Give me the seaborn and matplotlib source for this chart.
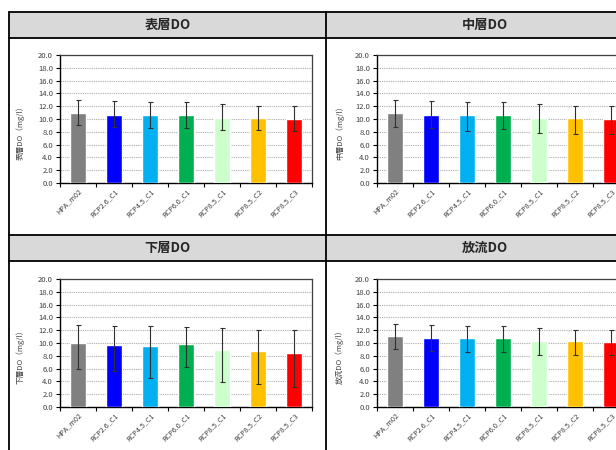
import numpy as np
import pandas as pd
import seaborn as sns
import matplotlib
matplotlib.use("Agg")
import matplotlib.pyplot as plt
from matplotlib.patches import Rectangle
from matplotlib.lines import Line2D
from matplotlib.ticker import MultipleLocator, FixedLocator

sns.set_style("white")
plt.rcParams["font.family"] = ["Noto Sans CJK JP", "DejaVu Sans"]

categories = ["HPA_m02", "RCP2.6_C1", "RCP4.5_C1", "RCP6.0_C1",
              "RCP8.5_C1", "RCP8.5_C2", "RCP8.5_C3"]
bar_colors = ["#808080", "#0000FF", "#00B0F0", "#00B050",
              "#CCFFCC", "#FFC000", "#FF0000"]

titles = ["表層DO", "中層DO", "下層DO", "放流DO"]

# mean, lower end and upper end of the range for each scenario
surface_mean = [11.0, 10.7, 10.7, 10.7, 10.2, 10.2, 10.05]
surface_low = [9.0, 8.8, 8.6, 8.6, 8.3, 8.3, 8.2]
surface_high = [12.9, 12.8, 12.7, 12.6, 12.3, 12.1, 12.1]

middle_mean = [11.0, 10.7, 10.7, 10.7, 10.2, 10.2, 10.05]
middle_low = [8.8, 8.6, 8.2, 8.4, 7.8, 7.7, 7.7]
middle_high = [12.9, 12.8, 12.7, 12.6, 12.3, 12.1, 12.1]

bottom_mean = [10.0, 9.65, 9.5, 9.8, 8.85, 8.7, 8.4]
bottom_low = [5.9, 5.6, 4.5, 6.3, 3.9, 3.6, 3.1]
bottom_high = [12.8, 12.6, 12.6, 12.5, 12.3, 12.0, 12.1]

outflow_mean = [11.05, 10.75, 10.75, 10.75, 10.25, 10.25, 10.1]
outflow_low = [9.0, 8.8, 8.6, 8.6, 8.2, 8.2, 8.1]
outflow_high = [12.9, 12.8, 12.7, 12.6, 12.4, 12.1, 12.1]

series = [
    (surface_mean, surface_low, surface_high),
    (middle_mean, middle_low, middle_high),
    (bottom_mean, bottom_low, bottom_high),
    (outflow_mean, outflow_low, outflow_high),
]

W, H = 616, 450
fig = plt.figure(figsize=(W / 100, H / 100), dpi=100)


def fx(px):
    return px / W


def fy(py):
    return 1 - py / H


# sheet-style panel frames and title bands
for top in (12, 235):
    fig.add_artist(Rectangle((fx(9), fy(top + 25.5)), fx(640 - 9), 25.5 / H,
                             transform=fig.transFigure, facecolor="#D9D9D9",
                             edgecolor="none", zorder=0))
for y in (12, 37.5, 235, 260.5):
    fig.add_artist(Line2D([fx(9), fx(640)], [fy(y), fy(y)],
                          transform=fig.transFigure, color="black", lw=1.3))
for x in (9, 326):
    fig.add_artist(Line2D([fx(x), fx(x)], [fy(12), fy(460)],
                          transform=fig.transFigure, color="black", lw=1.3))

title_pos = [(167.5, 25), (485, 25), (167.5, 248), (485, 248)]
axes_pos = [(60, 55), (377, 55), (60, 279), (377, 279)]
label_x = [-0.139, -0.131, -0.139, -0.131]

for i, (title, (mean, low, high)) in enumerate(zip(titles, series)):
    tx, ty = title_pos[i]
    fig.text(fx(tx), fy(ty), title, ha="center", va="center",
             fontsize=9.5, fontweight="bold")

    ax_l, ax_t = axes_pos[i]
    ax = fig.add_axes([fx(ax_l), fy(ax_t + 128), 252 / W, 128 / H])

    df = pd.DataFrame({"scenario": categories, "DO": mean})
    sns.barplot(data=df, x="scenario", y="DO", hue="scenario",
                palette=bar_colors, legend=False, width=0.42,
                saturation=1, ax=ax, zorder=3)

    m = np.array(mean)
    yerr = [m - np.array(low), np.array(high) - m]
    ax.errorbar(np.arange(len(categories)), m, yerr=yerr, fmt="none",
                ecolor="#303030", elinewidth=0.8, capsize=1.8,
                capthick=0.8, zorder=4, linestyle=":")

    ax.set_xlim(-0.5, len(categories) - 0.5)
    ax.set_ylim(0, 20)
    ax.yaxis.set_major_locator(MultipleLocator(2))
    ax.yaxis.set_major_formatter(matplotlib.ticker.FormatStrFormatter("%.1f"))
    ax.grid(axis="y", color="#B8B8B8", linestyle=(0, (1.2, 0.8)), lw=0.8,
            zorder=1)
    ax.set_axisbelow(True)

    ax.xaxis.set_minor_locator(FixedLocator(np.arange(-0.5, len(categories), 1)))
    ax.tick_params(axis="x", which="major", length=0, pad=3)
    ax.tick_params(axis="x", which="minor", length=3, width=0.8,
                   direction="out", color="black", bottom=True)
    ax.tick_params(axis="y", which="major", length=3, width=0.8,
                   direction="out", color="black", left=True, pad=2)
    ax.set_xticks(range(len(categories)))
    ax.set_xticklabels(categories, rotation=45, ha="right",
                       rotation_mode="anchor", fontsize=5.2, color="#404040")
    for lab in ax.get_yticklabels():
        lab.set_fontsize(5.5)
        lab.set_color("#404040")

    ax.set_xlabel("")
    ax.set_ylabel(title + "（mg/l）", fontsize=5.5, color="#404040")
    ax.yaxis.set_label_coords(label_x[i], 0.41)

    for side in ("left", "bottom"):
        ax.spines[side].set_color("black")
        ax.spines[side].set_linewidth(1.0)
    for side in ("top", "right"):
        ax.spines[side].set_visible(True)
        ax.spines[side].set_color("#404040")
        ax.spines[side].set_linewidth(0.9)
        ax.spines[side].set_linestyle((0, (1.5, 0.8)))

fig.savefig("out.png", dpi=100, facecolor="white")
